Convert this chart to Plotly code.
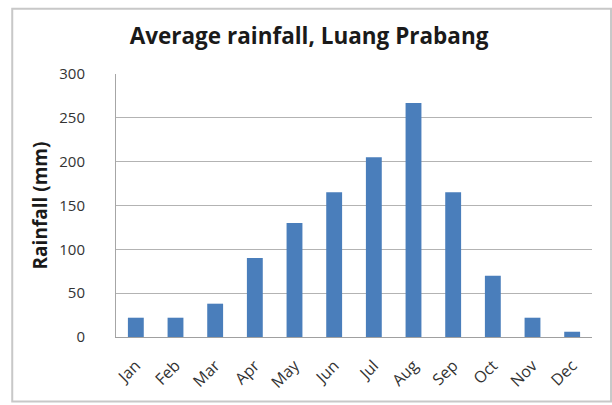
import plotly.graph_objects as go

months = ["Jan", "Feb", "Mar", "Apr", "May", "Jun", "Jul", "Aug", "Sep", "Oct", "Nov", "Dec"]
rainfall = [22, 22, 38, 90, 130, 165, 205, 267, 165, 70, 22, 6]
y_ticks = [0, 50, 100, 150, 200, 250, 300]

fig = go.Figure(go.Bar(
    x=months, y=rainfall,
    marker=dict(color="#4A7EBB", line=dict(width=0)),
    width=0.4,
))

fig.update_layout(
    width=612, height=405,
    margin=dict(l=116, r=20, t=74, b=64),
    paper_bgcolor="white", plot_bgcolor="white",
    showlegend=False,
    font=dict(family="Open Sans, Lato, sans-serif", color="#333333"),
    title=dict(text="<b>Average rainfall, Luang Prabang</b>", x=0.505, xanchor="center",
               y=0.91, yanchor="middle",
               font=dict(size=22.5, color="#1A1A1A", family="Open Sans, sans-serif")),
    xaxis=dict(tickangle=-45, tickfont=dict(size=16), showline=True, linecolor="#A0A0A0",
               linewidth=1, showgrid=False, ticks="outside", ticklen=12,
               tickcolor="rgba(255,255,255,0)"),
    yaxis=dict(range=[0, 300], tickvals=y_ticks, tickfont=dict(size=15),
               showline=True, linecolor="#A6A6A6", linewidth=1,
               gridcolor="#B3B3B3", gridwidth=1.2, ticks="outside", ticklen=27,
               tickcolor="rgba(255,255,255,0)",
               title=dict(text="<b>Rainfall (mm)</b>", font=dict(size=19, color="#1A1A1A"),
                          standoff=6)),
    shapes=[dict(type="rect", xref="paper", yref="paper", x0=-0.218, x1=1.04,
                 y0=-0.245, y1=1.248, line=dict(color="#C8C8C8", width=2))],
)

fig.write_html("out.html", config={"displayModeBar": False},
               post_script="document.body.style.margin='0';document.body.style.overflow='hidden';")
